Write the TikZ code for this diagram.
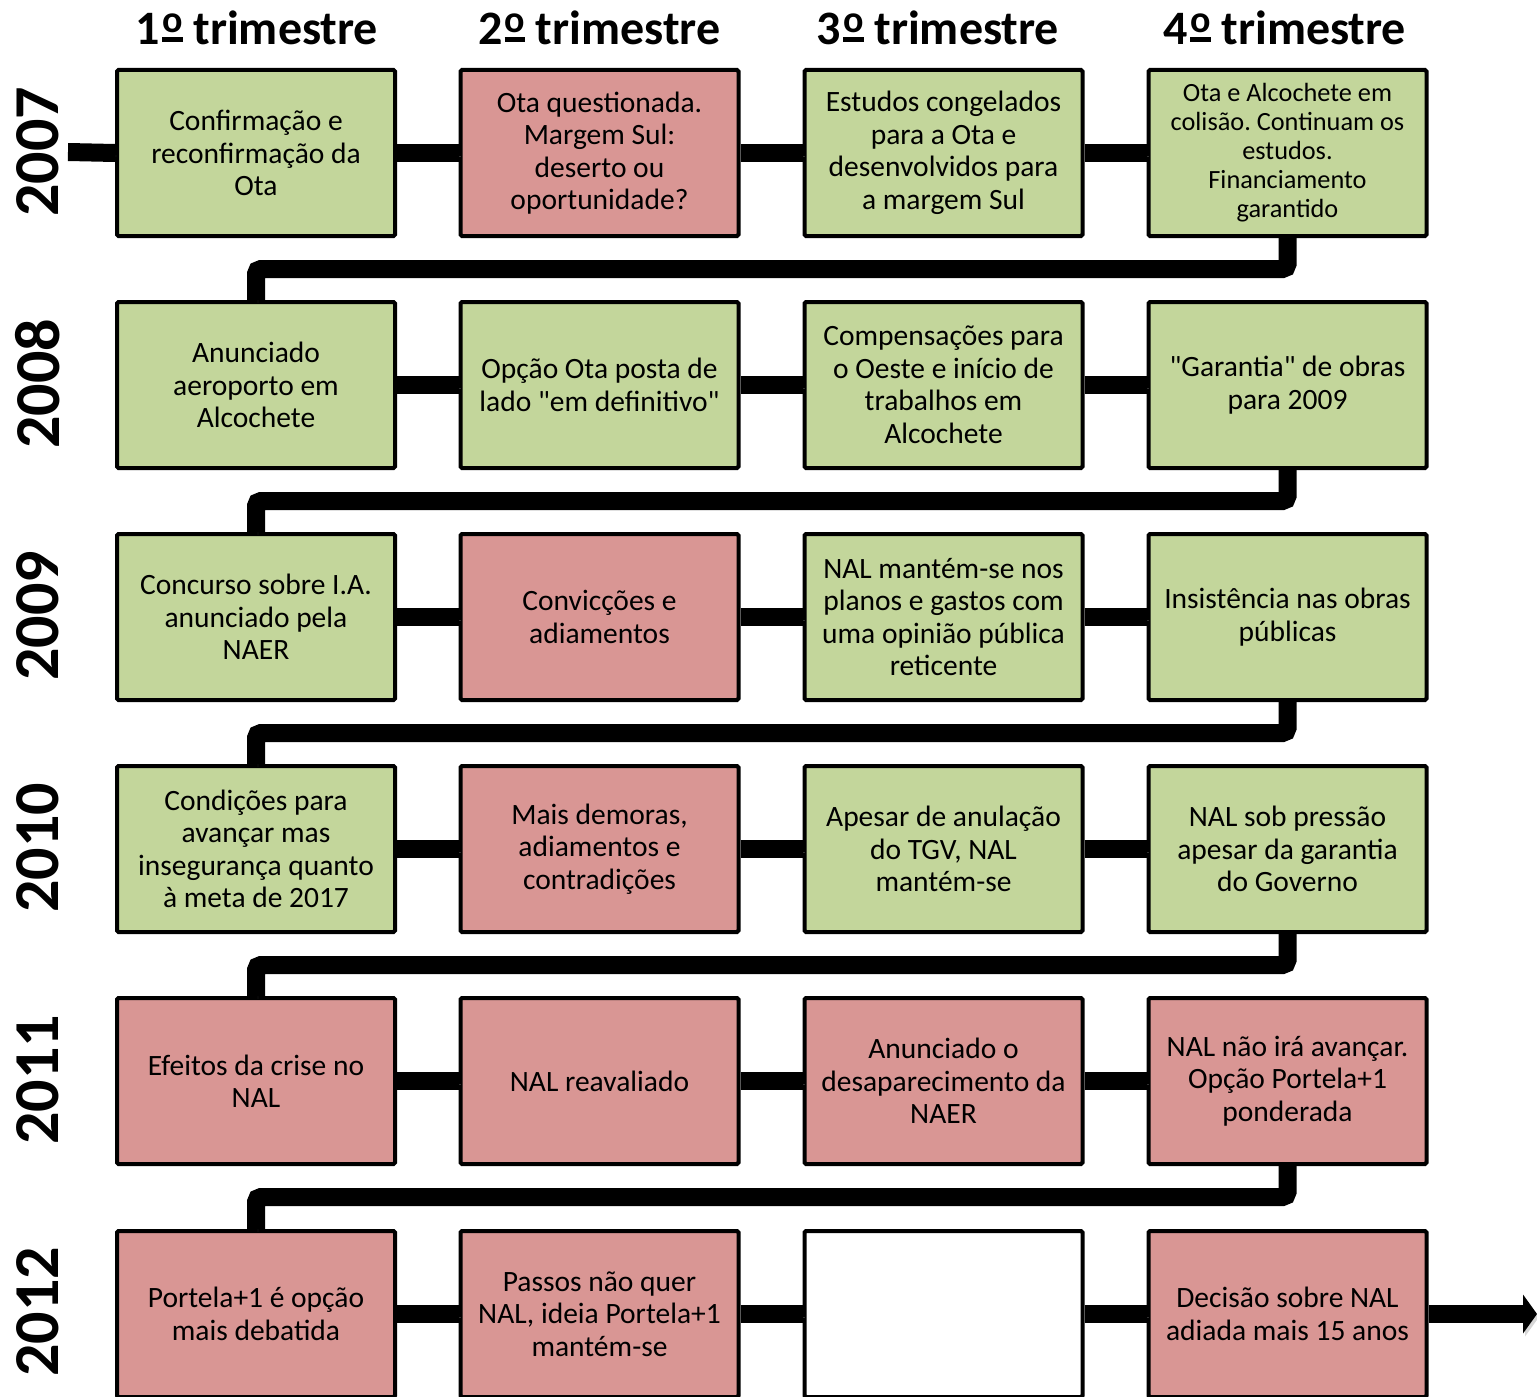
\documentclass[tikz,border=0pt]{standalone}
\usepackage{fontspec}
\setmainfont{Carlito}[Ligatures=TeXOff]
\usetikzlibrary{arrows.meta}
\definecolor{boxgreen}{HTML}{C3D69B}
\definecolor{boxred}{HTML}{D99694}
\frenchspacing
\newcommand{\ordo}{\kern2pt\raisebox{3pt}{\vbox{\hbox{\fontsize{38}{38}\selectfont\bfseries o}\kern4pt\hrule height 4.5pt}}}
\tikzset{
  box/.style={draw=black, line width=4pt, minimum width=278pt, minimum height=166pt,
    inner sep=0pt, align=center, rounded corners=1.5pt,
    font=\fontsize{29.5}{32.5}\selectfont},
  gbox/.style={box, fill=boxgreen},
  rbox/.style={box, fill=boxred},
  wbox/.style={box, fill=white},
  shadowed/.style={preaction={draw=black!45, opacity=0.35, transform canvas={xshift=2pt,yshift=-3pt}}},
  link/.style={line width=18pt, draw=black, shadowed},
  turn/.style={link, rounded corners=5pt},
  quarter/.style={font=\fontsize{48}{52}\selectfont\bfseries},
  year/.style={font=\fontsize{64}{70}\selectfont\bfseries, rotate=90},
}
\begin{document}
\begin{tikzpicture}[x=1pt,y=-1pt]
\useasboundingbox (0,0) rectangle (1537,1397);
% headers
\node[quarter] (q1) at (257,28) {1\ordo{} trimestre};
\node[quarter] (q2) at (599.5,28) {2\ordo{} trimestre};
\node[quarter] (q3) at (938,28) {3\ordo{} trimestre};
\node[quarter] (q4) at (1285,28) {4\ordo{} trimestre};
% years
\node[year] (y1) at (38,152) {2007};
\node[year] (y2) at (38,384) {2008};
\node[year] (y3) at (38,616) {2009};
\node[year] (y4) at (38,848) {2010};
\node[year] (y5) at (38,1080) {2011};
\node[year] (y6) at (38,1312) {2012};
% 2007
\node[gbox] (b11) at (256,153) {Confirmação e\\reconfirmação da\\Ota};
\node[rbox] (b12) at (599.5,153) {Ota questionada.\\Margem Sul:\\deserto ou\\oportunidade?};
\node[gbox] (b13) at (943.5,153) {Estudos congelados\\para a Ota e\\desenvolvidos para\\a margem Sul};
\node[gbox, font=\fontsize{26.3}{29}\selectfont] (b14) at (1287.5,153) {Ota e Alcochete em\\colisão. Continuam os\\estudos.\\Financiamento\\garantido};
% 2008
\node[gbox] (b21) at (256,385) {Anunciado\\aeroporto em\\Alcochete};
\node[gbox] (b22) at (599.5,385) {Opção Ota posta de\\lado "em definitivo"};
\node[gbox] (b23) at (943.5,385) {Compensações para\\o Oeste e início de\\trabalhos em\\Alcochete};
\node[gbox] (b24) at (1287.5,385) {"Garantia" de obras\\para 2009};
% 2009
\node[gbox] (b31) at (256,617) {Concurso sobre I.A.\\anunciado pela\\NAER};
\node[rbox] (b32) at (599.5,617) {Convicções e\\adiamentos};
\node[gbox] (b33) at (943.5,617) {NAL mantém-se nos\\planos e gastos com\\uma opinião pública\\reticente};
\node[gbox] (b34) at (1287.5,617) {Insistência nas obras\\públicas};
% 2010
\node[gbox] (b41) at (256,849) {Condições para\\avançar mas\\insegurança quanto\\à meta de 2017};
\node[rbox] (b42) at (599.5,849) {Mais demoras,\\adiamentos e\\contradições};
\node[gbox] (b43) at (943.5,849) {Apesar de anulação\\do TGV, NAL\\mantém-se};
\node[gbox] (b44) at (1287.5,849) {NAL sob pressão\\apesar da garantia\\do Governo};
% 2011
\node[rbox] (b51) at (256,1081) {Efeitos da crise no\\NAL};
\node[rbox] (b52) at (599.5,1081) {NAL reavaliado};
\node[rbox] (b53) at (943.5,1081) {Anunciado o\\desaparecimento da\\NAER};
\node[rbox] (b54) at (1287.5,1081) {NAL não irá avançar.\\Opção Portela+1\\ponderada};
% 2012
\node[rbox] (b61) at (256,1314) {Portela+1 é opção\\mais debatida};
\node[rbox] (b62) at (599.5,1314) {Passos não quer\\NAL, ideia Portela+1\\mantém-se};
\node[wbox] (b63) at (943.5,1314) {};
\node[rbox] (b64) at (1287.5,1314) {Decisão sobre NAL\\adiada mais 15 anos};
% connectors
\coordinate (start) at (68,152);
\coordinate (headbase) at (1523,1314);
\coordinate (finish) at (1537,1314);
\draw[link] (start) -- (b11.west);
\foreach \r in {1,...,6}{
  \draw[link] (b\r1.east) -- (b\r2.west);
  \draw[link] (b\r2.east) -- (b\r3.west);
}
\foreach \r in {1,...,5}{
  \draw[link] (b\r3.east) -- (b\r4.west);
}
\draw[link] (b63.east) -- (b64.west);
\draw[link] (b64.east) -- ([xshift=1pt]headbase);
\fill[black, preaction={fill=black!45, opacity=0.35, transform canvas={xshift=2pt,yshift=-3pt}}]
  ([yshift=-19.5pt]headbase) -- (finish) -- ([yshift=19.5pt]headbase) -- cycle;
\foreach \r/\n/\m in {1/2/269, 2/3/501, 3/4/733, 4/5/965, 5/6/1197}{
  \draw[turn] (b\r4.south) -- (b\r4.south |- 0,\m) -- (b\n1.north |- 0,\m) -- (b\n1.north);
}
\end{tikzpicture}
\end{document}
